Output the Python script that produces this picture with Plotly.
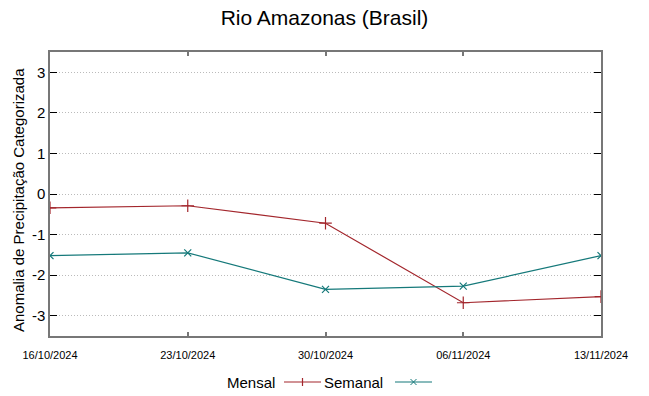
import plotly.graph_objects as go

dates = ["2024-10-16", "2024-10-23", "2024-10-30", "2024-11-06", "2024-11-13"]
tick_labels = ["16/10/2024", "23/10/2024", "30/10/2024", "06/11/2024", "13/11/2024"]
mensal = [-0.34, -0.29, -0.72, -2.68, -2.53]
semanal = [-1.52, -1.45, -2.35, -2.27, -1.52]
y_ticks = [-3, -2, -1, 0, 1, 2, 3]
y_tick_labels = ["-3", "-2", "-1", "0", "1", "2", "3"]
series_names = ["Mensal", "Semanal"]
y_title = "Anomalia de Precipitação Categorizada"

red = "#a3262c"
teal = "#15797a"

W, H = 649, 396
ML, MR, MT, MB = 50, 48, 52, 60
FONT = "Liberation Sans, Arial, sans-serif"

fig = go.Figure()
fig.add_trace(go.Scatter(
    x=dates, y=mensal, name=series_names[0], mode="lines+markers", showlegend=False,
    line=dict(color=red, width=1.2),
    marker=dict(symbol="cross-thin", size=9, color=red, line=dict(color=red, width=1.2)),
))
fig.add_trace(go.Scatter(
    x=dates, y=semanal, name=series_names[1], mode="lines+markers", showlegend=False,
    line=dict(color=teal, width=1.2),
    marker=dict(symbol="x-thin", size=7, color=teal, line=dict(color=teal, width=1.2)),
))


def pxl(v):
    return (v - ML) / (W - ML - MR)


def pyl(v):
    return (H - v - MB) / (H - MT - MB)


# gnuplot-style legend: label text followed by a line sample with marker
ly = 382
legend_items = [
    (series_names[0], red, 277, 284, 321, "plus"),
    (series_names[1], teal, 385, 395, 432, "x"),
]
annotations = []
shapes = []
for name, col, text_right, l0, l1, kind in legend_items:
    annotations.append(dict(
        text=name, xref="paper", yref="paper", x=pxl(text_right), y=pyl(ly),
        xanchor="right", yanchor="middle", showarrow=False,
        font=dict(size=15, color="#000000", family=FONT),
    ))
    shapes.append(dict(type="line", xref="paper", yref="paper",
                       x0=pxl(l0), x1=pxl(l1), y0=pyl(ly), y1=pyl(ly),
                       line=dict(color=col, width=1.2)))
    cx = (l0 + l1) / 2
    if kind == "plus":
        shapes.append(dict(type="line", xref="paper", yref="paper",
                           x0=pxl(cx), x1=pxl(cx), y0=pyl(ly - 4), y1=pyl(ly + 4),
                           line=dict(color=col, width=1.2)))
    else:
        shapes.append(dict(type="line", xref="paper", yref="paper",
                           x0=pxl(cx - 3), x1=pxl(cx + 3), y0=pyl(ly - 3), y1=pyl(ly + 3),
                           line=dict(color=col, width=1)))
        shapes.append(dict(type="line", xref="paper", yref="paper",
                           x0=pxl(cx - 3), x1=pxl(cx + 3), y0=pyl(ly + 3), y1=pyl(ly - 3),
                           line=dict(color=col, width=1)))

# y-axis title placed like gnuplot's
annotations.append(dict(
    text=y_title, xref="paper", yref="paper", x=pxl(18), y=pyl(200),
    xanchor="center", yanchor="middle", textangle=-90, showarrow=False,
    font=dict(size=15, color="#000000", family=FONT),
))

fig.update_layout(
    width=W, height=H,
    margin=dict(l=ML, r=MR, t=MT, b=MB, autoexpand=False),
    paper_bgcolor="white", plot_bgcolor="white",
    font=dict(family=FONT, color="#000000"),
    title=dict(text="Rio Amazonas (Brasil)", x=0.5, xanchor="center", y=1 - 18 / H, yanchor="middle",
               yref="container", font=dict(size=21, color="#000000")),
    showlegend=False,
    annotations=annotations,
    shapes=shapes,
    xaxis=dict(
        type="date", range=[dates[0], dates[-1]], automargin=False,
        tickvals=dates, ticktext=tick_labels, tickfont=dict(size=11),
        ticklabelstandoff=8,
        showgrid=False, zeroline=False, ticks="inside", ticklen=4, tickcolor="#777777",
        tickwidth=1.5,
        showline=True, mirror="allticks", linecolor="#777777", linewidth=1.5,
    ),
    yaxis=dict(
        range=[-3.5, 3.5], tickvals=y_ticks, ticktext=y_tick_labels,
        tickfont=dict(size=15), automargin=False,
        showgrid=True, gridcolor="#bbbbbb", griddash="1px,2px", gridwidth=1,
        zeroline=False, ticks="inside", ticklen=7, tickcolor="#000000",
        showline=True, mirror="allticks", linecolor="#777777", linewidth=1.5,
    ),
)

fig.write_html("out.html", post_script="document.body.style.margin='0';",
               config={"displayModeBar": False})
